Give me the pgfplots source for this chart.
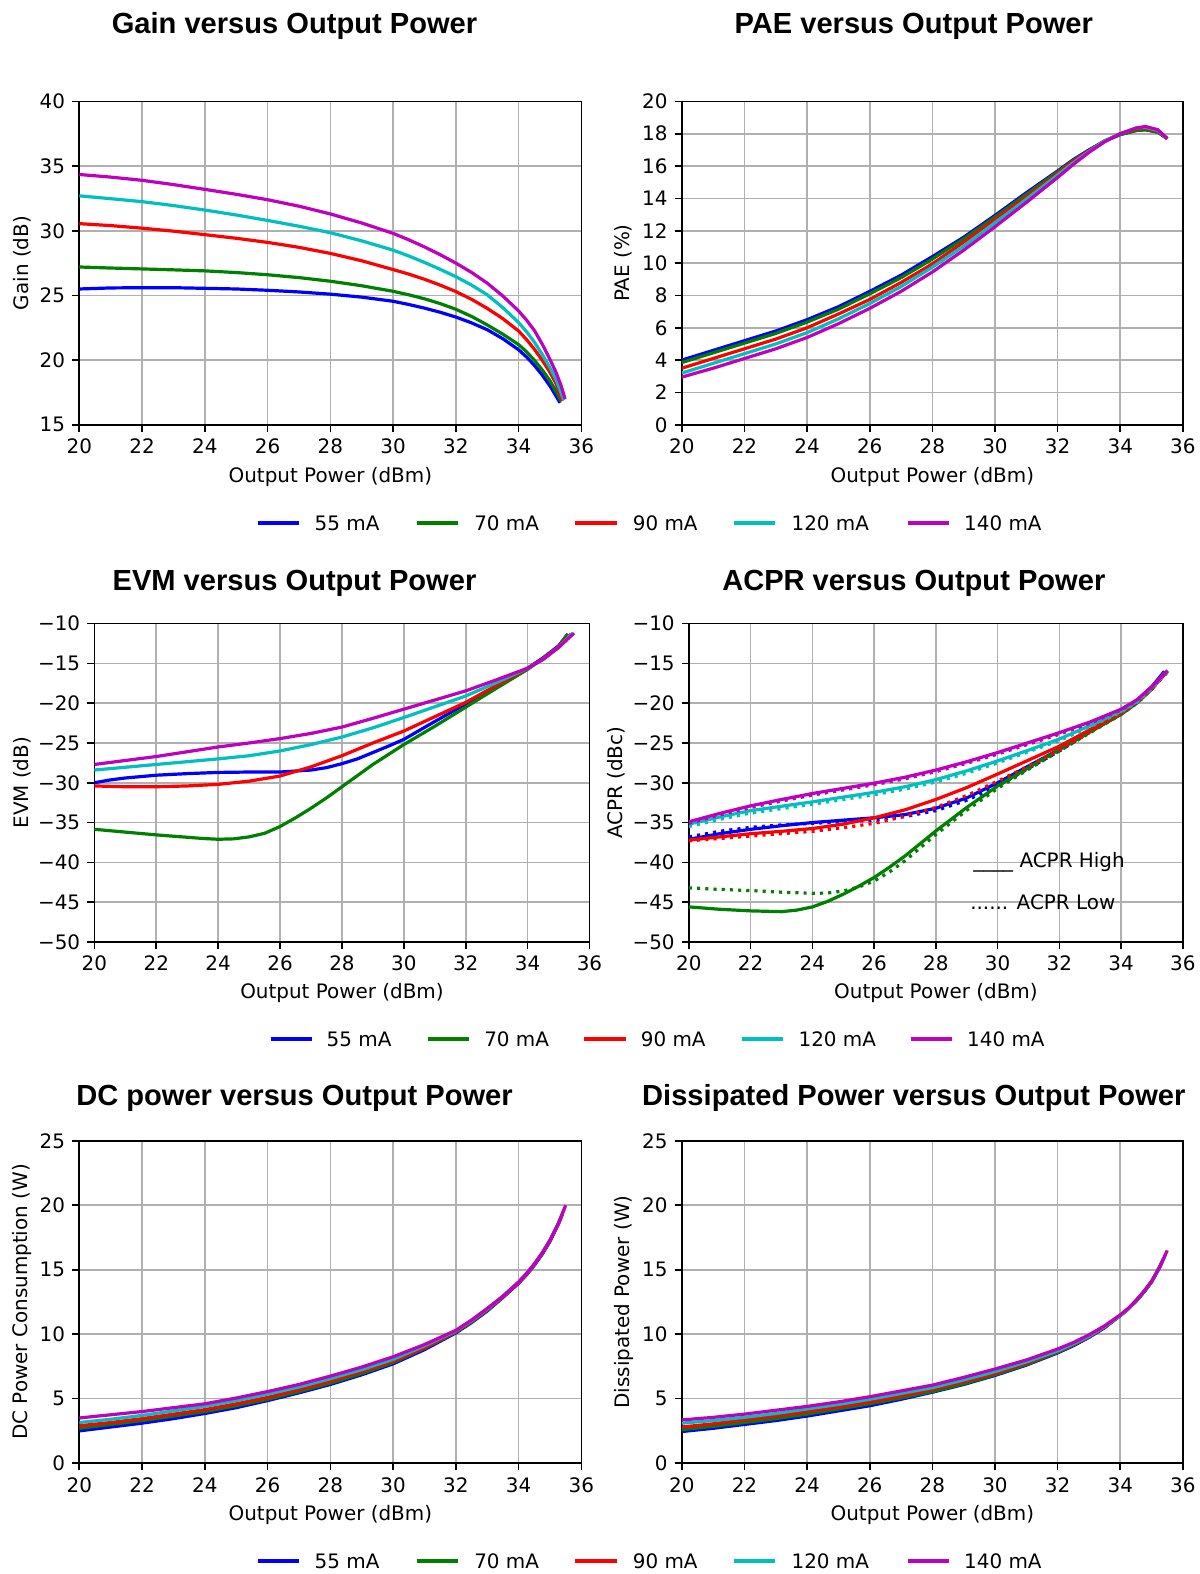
\documentclass[border=0pt]{standalone}
\usepackage{pgfplots}
\pgfplotsset{compat=1.18}
\usepackage{fontspec}
\setmainfont{DejaVu Sans}
\newfontfamily\titlefont{Liberation Sans}
\definecolor{cB}{rgb}{0,0,1}
\definecolor{cG}{rgb}{0,0.5,0}
\definecolor{cR}{rgb}{1,0,0}
\definecolor{cC}{rgb}{0,0.75,0.75}
\definecolor{cM}{rgb}{0.75,0,0.75}
\definecolor{gridc}{rgb}{0.69,0.69,0.69}
\pgfplotsset{
 base/.style={
  scale only axis,
  anchor=south west,
  xmin=20,xmax=36,xtick={20,22,...,36},
  grid=major,
  major grid style={draw=gridc,line width=0.82bp},
  axis line style={line width=0.82bp},
  tick style={black,line width=0.82bp},
  major tick length=3.6bp,
  tick align=outside,
  tick pos=left,
  tick label style={font=\fontsize{10}{12}\selectfont},
  label style={font=\fontsize{10}{12}\selectfont},
  /pgf/number format/assume math mode=true,
  every axis plot/.append style={line width=1.6bp, mark=none, line join=round},
  xlabel={Output Power (dBm)},
  xlabel style={at={(axis description cs:0.5,-0.16)},anchor=center},
 },
 dotl/.style={dash pattern=on 1.55bp off 2.55bp},
}
\begin{document}
\begin{tikzpicture}
% ---------------- Gain
\begin{axis}[base,width=251.05bp,height=161.7bp,at={(39.65bp,-212.4bp)},
  ymin=15,ymax=40,ytick={15,20,...,40},ylabel={Gain (dB)},
  ylabel style={at={(axis description cs:-0.114,0.5)},anchor=center}]
\addplot[cB] coordinates {(20,25.5)(21,25.58)(22,25.6)(23,25.6)(24,25.55)(25,25.5)(26,25.4)(27,25.27)(28,25.1)(29,24.87)(30,24.55)(30.5,24.3)(31,24.02)(31.5,23.7)(32,23.33)(32.5,22.88)(33,22.35)(33.5,21.65)(34,20.8)(34.25,20.25)(34.5,19.6)(34.75,18.85)(35,18.0)(35.15,17.4)(35.32,16.7)};
\addplot[cG] coordinates {(20,27.2)(21,27.12)(22,27.05)(23,26.98)(24,26.9)(25,26.77)(26,26.6)(27,26.38)(28,26.1)(29,25.75)(30,25.32)(30.5,25.05)(31,24.74)(31.5,24.37)(32,23.93)(32.5,23.38)(33,22.72)(33.5,22.0)(34,21.2)(34.25,20.65)(34.5,20.0)(34.75,19.25)(35,18.4)(35.18,17.65)(35.36,16.8)};
\addplot[cR] coordinates {(20,30.55)(21,30.4)(22,30.2)(23,29.97)(24,29.7)(25,29.42)(26,29.1)(27,28.72)(28,28.25)(29,27.68)(30,27.0)(30.5,26.65)(31,26.25)(31.5,25.8)(32,25.3)(32.5,24.7)(33,24.0)(33.5,23.2)(34,22.25)(34.25,21.6)(34.5,20.85)(34.75,20.0)(35,19.05)(35.2,18.15)(35.39,16.85)};
\addplot[cC] coordinates {(20,32.7)(21,32.48)(22,32.25)(23,31.95)(24,31.6)(25,31.22)(26,30.8)(27,30.35)(28,29.85)(29,29.22)(30,28.5)(30.5,28.05)(31,27.55)(31.5,27.02)(32,26.45)(32.5,25.8)(33,25.05)(33.5,24.05)(34,22.9)(34.25,22.2)(34.5,21.4)(34.75,20.45)(35,19.4)(35.2,18.45)(35.44,16.9)};
\addplot[cM] coordinates {(20,34.35)(21,34.15)(22,33.9)(23,33.57)(24,33.2)(25,32.82)(26,32.4)(27,31.9)(28,31.3)(29,30.6)(30,29.8)(30.5,29.3)(31,28.75)(31.5,28.15)(32,27.5)(32.5,26.78)(33,25.95)(33.5,24.95)(34,23.8)(34.25,23.1)(34.5,22.3)(34.75,21.25)(35,20.05)(35.2,19.0)(35.35,18.05)(35.48,17.0)};
\end{axis}
% ---------------- PAE
\begin{axis}[base,width=250.55bp,height=161.7bp,at={(340.9bp,-212.4bp)},
  ymin=0,ymax=20,ytick={0,2,...,20},ylabel={PAE (\%)},
  ylabel style={at={(axis description cs:-0.116,0.5)},anchor=center}]
\addplot[cB] coordinates {(20,4.0)(21,4.6)(22,5.2)(23,5.8)(24,6.5)(25,7.3)(26,8.25)(27,9.25)(28,10.4)(29,11.6)(30,12.95)(31,14.35)(32,15.7)(32.5,16.4)(33,17.0)(33.5,17.55)(34,17.95)(34.5,18.2)(34.8,18.25)(35.2,18.1)(35.5,17.7)};
\addplot[cG] coordinates {(20,3.85)(21,4.45)(22,5.05)(23,5.65)(24,6.35)(25,7.15)(26,8.1)(27,9.1)(28,10.25)(29,11.5)(30,12.85)(31,14.25)(32,15.65)(32.5,16.35)(33,16.95)(33.5,17.55)(34,17.95)(34.5,18.2)(34.8,18.25)(35.2,18.1)(35.5,17.7)};
\addplot[cR] coordinates {(20,3.5)(21,4.1)(22,4.7)(23,5.3)(24,6.0)(25,6.85)(26,7.75)(27,8.8)(28,9.95)(29,11.3)(30,12.7)(31,14.1)(32,15.55)(32.5,16.3)(33,16.95)(33.5,17.55)(34,18.0)(34.5,18.3)(34.8,18.35)(35.2,18.15)(35.5,17.7)};
\addplot[cC] coordinates {(20,3.2)(21,3.8)(22,4.4)(23,5.0)(24,5.7)(25,6.55)(26,7.5)(27,8.55)(28,9.75)(29,11.05)(30,12.5)(31,13.95)(32,15.45)(32.5,16.2)(33,16.9)(33.5,17.55)(34,18.0)(34.5,18.35)(34.8,18.4)(35.2,18.2)(35.5,17.7)};
\addplot[cM] coordinates {(20,2.95)(21,3.5)(22,4.1)(23,4.7)(24,5.4)(25,6.25)(26,7.2)(27,8.25)(28,9.45)(29,10.8)(30,12.25)(31,13.75)(32,15.3)(32.5,16.1)(33,16.85)(33.5,17.5)(34,18.0)(34.5,18.35)(34.8,18.45)(35.2,18.25)(35.5,17.7)};
\end{axis}
% ---------------- EVM
\begin{axis}[base,width=247.55bp,height=159.15bp,at={(47.2bp,-470.95bp)},
  ymin=-50,ymax=-10,ytick={-50,-45,...,-10},
  yticklabels={−50,−45,−40,−35,−30,−25,−20,−15,−10},
  ylabel={EVM (dB)},
  xlabel style={at={(axis description cs:0.5,-0.162)},anchor=center},
  ylabel style={at={(axis description cs:-0.146,0.5)},anchor=center}]
\addplot[cB] coordinates {(20,-30.0)(20.5,-29.65)(21,-29.4)(22,-29.05)(23,-28.85)(24,-28.7)(25,-28.65)(26,-28.65)(27,-28.4)(27.5,-28.1)(28,-27.6)(28.5,-27.0)(29,-26.2)(29.5,-25.4)(30,-24.55)(31,-22.3)(32,-20.1)(33,-17.9)(34,-15.6)(34.5,-14.3)(35,-12.8)(35.3,-11.3)};
\addplot[cG] coordinates {(20,-35.85)(21,-36.2)(22,-36.55)(23,-36.85)(23.5,-37.0)(24,-37.1)(24.5,-37.05)(25,-36.8)(25.5,-36.35)(26,-35.5)(26.5,-34.4)(27,-33.2)(27.5,-31.9)(28,-30.5)(29,-27.7)(30,-25.2)(31,-22.9)(32,-20.5)(33,-18.1)(34,-15.75)(34.5,-14.4)(35,-12.9)(35.3,-11.3)};
\addplot[cR] coordinates {(20,-30.4)(21,-30.5)(22,-30.5)(23,-30.4)(24,-30.2)(25,-29.8)(26,-29.15)(27,-28.0)(28,-26.6)(29,-25.0)(30,-23.5)(31,-21.7)(32,-19.9)(33,-17.75)(34,-15.6)(34.5,-14.4)(35,-12.9)(35.4,-11.3)};
\addplot[cC] coordinates {(20,-28.4)(21,-28.05)(22,-27.7)(23,-27.35)(24,-27.0)(25,-26.6)(26,-26.0)(27,-25.2)(28,-24.25)(29,-23.1)(30,-21.8)(31,-20.45)(32,-19.1)(33,-17.4)(34,-15.6)(34.5,-14.5)(35,-13.0)(35.45,-11.2)};
\addplot[cM] coordinates {(20,-27.7)(21,-27.2)(22,-26.7)(23,-26.1)(24,-25.5)(25,-25.0)(26,-24.45)(27,-23.8)(28,-23.0)(29,-21.9)(30,-20.75)(31,-19.6)(32,-18.45)(33,-17.05)(34,-15.6)(34.5,-14.5)(35,-13.0)(35.5,-11.2)};
\end{axis}
% ---------------- ACPR
\begin{axis}[base,width=247bp,height=159.15bp,at={(344.45bp,-470.95bp)},
  ymin=-50,ymax=-10,ytick={-50,-45,...,-10},
  yticklabels={−50,−45,−40,−35,−30,−25,−20,−15,−10},
  ylabel={ACPR (dBc)},
  xlabel style={at={(axis description cs:0.5,-0.162)},anchor=center},
  ylabel style={at={(axis description cs:-0.148,0.5)},anchor=center}]
\addplot[cB] coordinates {(20,-37.1)(21,-36.4)(22,-35.85)(23,-35.4)(24,-35.0)(25,-34.7)(26,-34.4)(27,-34.0)(28,-33.2)(29,-31.9)(30,-30.0)(31,-27.9)(32,-25.8)(33,-23.5)(34,-21.2)(34.5,-19.8)(35,-17.9)(35.4,-16.0)};
\addplot[cB,dotl] coordinates {(20,-36.8)(21,-36.1)(22,-35.6)(23,-35.3)(24,-35.1)(25,-34.9)(26,-34.7)(27,-34.25)(28,-33.5)(29,-32.2)(30,-30.4)(31,-28.2)(32,-26.0)(33,-23.6)(34,-21.3)(34.5,-19.9)(35,-18.0)(35.4,-16.1)};
\addplot[cG] coordinates {(20,-45.6)(21,-45.9)(22,-46.1)(23,-46.2)(23.5,-46.0)(24,-45.6)(24.5,-44.9)(25,-44.0)(25.5,-43.0)(26,-41.9)(26.5,-40.6)(27,-39.2)(28,-36.05)(29,-33.1)(30,-30.4)(31,-28.1)(32,-25.8)(33,-23.6)(34,-21.4)(34.5,-20.0)(35,-18.2)(35.4,-16.15)};
\addplot[cG,dotl] coordinates {(20,-43.2)(21,-43.4)(22,-43.55)(23,-43.75)(24,-43.9)(24.5,-43.85)(25,-43.6)(25.5,-43.1)(26,-42.35)(26.5,-41.2)(27,-39.8)(28,-36.5)(29,-33.45)(30,-30.7)(31,-28.3)(32,-26.0)(33,-23.7)(34,-21.4)(34.5,-20.05)(35,-18.25)(35.4,-16.2)};
\addplot[cR] coordinates {(20,-37.2)(21,-36.8)(22,-36.4)(23,-36.1)(24,-35.75)(25,-35.2)(26,-34.4)(27,-33.4)(28,-32.1)(29,-30.6)(30,-28.9)(31,-27.15)(32,-25.4)(33,-23.3)(34,-21.2)(34.5,-19.9)(35,-18.1)(35.5,-16.0)};
\addplot[cR,dotl] coordinates {(20,-37.3)(21,-37.0)(22,-36.7)(23,-36.4)(24,-36.1)(25,-35.65)(26,-35.1)(27,-34.2)(28,-33.1)(29,-31.6)(30,-29.8)(31,-27.9)(32,-25.9)(33,-23.6)(34,-21.3)(34.5,-20.0)(35,-18.2)(35.5,-16.1)};
\addplot[cC] coordinates {(20,-35.2)(21,-34.3)(22,-33.5)(23,-32.95)(24,-32.4)(25,-31.8)(26,-31.2)(27,-30.5)(28,-29.6)(29,-28.5)(30,-27.25)(31,-25.9)(32,-24.5)(33,-22.8)(34,-21.0)(34.5,-19.8)(35,-18.0)(35.5,-15.9)};
\addplot[cC,dotl] coordinates {(20,-35.5)(21,-34.6)(22,-33.8)(23,-33.25)(24,-32.7)(25,-32.1)(26,-31.5)(27,-30.8)(28,-29.9)(29,-28.8)(30,-27.5)(31,-26.1)(32,-24.7)(33,-22.95)(34,-21.1)(34.5,-19.9)(35,-18.1)(35.5,-16.0)};
\addplot[cM] coordinates {(20,-34.9)(21,-33.85)(22,-32.9)(23,-32.1)(24,-31.35)(25,-30.7)(26,-30.05)(27,-29.3)(28,-28.4)(29,-27.35)(30,-26.2)(31,-24.95)(32,-23.7)(33,-22.35)(34,-20.75)(34.5,-19.6)(35,-17.9)(35.5,-15.9)};
\addplot[cM,dotl] coordinates {(20,-35.1)(21,-34.05)(22,-33.1)(23,-32.3)(24,-31.55)(25,-30.9)(26,-30.25)(27,-29.5)(28,-28.6)(29,-27.55)(30,-26.4)(31,-25.15)(32,-23.9)(33,-22.5)(34,-20.85)(34.5,-19.7)(35,-18.0)(35.5,-16.0)};
\node[anchor=base west,inner sep=0,font=\fontsize{10}{12}\selectfont] at (axis cs:29.2,-40.65) {\_\_\_\_ ACPR High};
\node[anchor=base west,inner sep=0,font=\fontsize{10}{12}\selectfont] at (axis cs:29.1,-45.95) {...... ACPR Low};
\end{axis}
% ---------------- DC power
\begin{axis}[base,width=251.05bp,height=161.15bp,at={(39.65bp,-731.55bp)},
  ymin=0,ymax=25,ytick={0,5,...,25},ylabel={DC Power Consumption (W)},
  ylabel style={at={(axis description cs:-0.114,0.5)},anchor=center}]
\addplot[cB] coordinates {(20,2.5)(21,2.8)(22,3.1)(23,3.45)(24,3.85)(25,4.3)(26,4.85)(27,5.45)(28,6.1)(29,6.85)(30,7.7)(31,8.8)(32,10.1)(32.5,10.9)(33,11.8)(33.5,12.85)(34,13.95)(34.25,14.6)(34.5,15.35)(34.75,16.2)(35,17.2)(35.3,18.75)};
\addplot[cG] coordinates {(20,2.7)(21,3.0)(22,3.3)(23,3.65)(24,4.0)(25,4.45)(26,4.95)(27,5.55)(28,6.2)(29,6.95)(30,7.8)(31,8.9)(32,10.15)(32.5,10.95)(33,11.85)(33.5,12.9)(34,14.0)(34.25,14.65)(34.5,15.4)(34.75,16.25)(35,17.25)(35.35,19.0)};
\addplot[cR] coordinates {(20,2.9)(21,3.15)(22,3.45)(23,3.8)(24,4.15)(25,4.6)(26,5.1)(27,5.7)(28,6.35)(29,7.1)(30,7.9)(31,8.95)(32,10.2)(32.5,11.0)(33,11.9)(33.5,12.9)(34,14.0)(34.25,14.65)(34.5,15.4)(34.75,16.25)(35,17.25)(35.25,18.45)(35.4,19.3)};
\addplot[cC] coordinates {(20,3.15)(21,3.4)(22,3.7)(23,4.05)(24,4.4)(25,4.85)(26,5.35)(27,5.9)(28,6.55)(29,7.25)(30,8.05)(31,9.1)(32,10.25)(32.5,11.05)(33,11.95)(33.5,12.95)(34,14.05)(34.25,14.7)(34.5,15.45)(34.75,16.3)(35,17.3)(35.25,18.5)(35.45,19.7)};
\addplot[cM] coordinates {(20,3.5)(21,3.75)(22,4.0)(23,4.3)(24,4.6)(25,5.05)(26,5.55)(27,6.1)(28,6.75)(29,7.45)(30,8.25)(31,9.2)(32,10.3)(32.5,11.1)(33,12.0)(33.5,12.95)(34,14.05)(34.25,14.7)(34.5,15.45)(34.75,16.3)(35,17.3)(35.25,18.5)(35.5,20.0)};
\end{axis}
% ---------------- Dissipated
\begin{axis}[base,width=250.55bp,height=161.15bp,at={(340.9bp,-731.55bp)},
  ymin=0,ymax=25,ytick={0,5,...,25},ylabel={Dissipated Power (W)},
  ylabel style={at={(axis description cs:-0.116,0.5)},anchor=center}]
\addplot[cB] coordinates {(20,2.45)(21,2.7)(22,3.0)(23,3.3)(24,3.65)(25,4.05)(26,4.45)(27,4.95)(28,5.5)(29,6.1)(30,6.8)(31,7.6)(32,8.55)(32.5,9.1)(33,9.75)(33.5,10.5)(34,11.45)(34.25,11.95)(34.5,12.55)(34.75,13.25)(35,14.05)(35.3,15.4)};
\addplot[cG] coordinates {(20,2.6)(21,2.85)(22,3.15)(23,3.45)(24,3.8)(25,4.2)(26,4.6)(27,5.05)(28,5.55)(29,6.15)(30,6.85)(31,7.65)(32,8.6)(32.5,9.15)(33,9.8)(33.5,10.55)(34,11.45)(34.25,11.95)(34.5,12.55)(34.75,13.25)(35,14.05)(35.35,15.7)};
\addplot[cR] coordinates {(20,2.8)(21,3.05)(22,3.35)(23,3.65)(24,4.0)(25,4.35)(26,4.75)(27,5.2)(28,5.7)(29,6.3)(30,6.95)(31,7.75)(32,8.65)(32.5,9.2)(33,9.8)(33.5,10.55)(34,11.45)(34.25,11.95)(34.5,12.6)(34.75,13.3)(35,14.1)(35.25,15.15)(35.4,15.95)};
\addplot[cC] coordinates {(20,3.1)(21,3.3)(22,3.55)(23,3.85)(24,4.2)(25,4.55)(26,4.95)(27,5.4)(28,5.85)(29,6.45)(30,7.1)(31,7.85)(32,8.7)(32.5,9.25)(33,9.85)(33.5,10.6)(34,11.45)(34.25,11.95)(34.5,12.6)(34.75,13.3)(35,14.1)(35.25,15.15)(35.45,16.2)};
\addplot[cM] coordinates {(20,3.35)(21,3.55)(22,3.8)(23,4.1)(24,4.4)(25,4.75)(26,5.15)(27,5.6)(28,6.05)(29,6.65)(30,7.3)(31,8.0)(32,8.85)(32.5,9.35)(33,9.95)(33.5,10.65)(34,11.5)(34.25,12.0)(34.5,12.6)(34.75,13.3)(35,14.1)(35.25,15.15)(35.5,16.5)};
\end{axis}
% ---------------- titles
\begin{scope}[every node/.style={anchor=base,inner sep=0,font=\titlefont\bfseries\fontsize{14.6}{17}\selectfont}]
\node at (147.25bp,-16.65bp) {Gain versus Output Power};
\node at (456.9bp,-16.65bp) {PAE versus Output Power};
\node at (147.25bp,-295.3bp) {EVM versus Output Power};
\node at (456.9bp,-295.3bp) {ACPR versus Output Power};
\node at (147.25bp,-552.75bp) {DC power versus Output Power};
\node at (456.9bp,-552.75bp) {Dissipated Power versus Output Power};
\end{scope}
% ---------------- legends
\begin{scope}[every node/.style={anchor=west,inner sep=0,font=\fontsize{10}{12}\selectfont}]
\foreach \yy in {-261.5bp,-780.5bp}{
\draw[cB,line width=1.6bp] (129.0bp,\yy) -- ++(20.6bp,0); \node at (157.15bp,\yy) {55 mA};
\draw[cG,line width=1.6bp] (208.35bp,\yy) -- ++(20.6bp,0); \node at (236.95bp,\yy) {70 mA};
\draw[cR,line width=1.6bp] (287.65bp,\yy) -- ++(20.6bp,0); \node at (316.25bp,\yy) {90 mA};
\draw[cC,line width=1.6bp] (367.0bp,\yy) -- ++(20.6bp,0); \node at (395.6bp,\yy) {120 mA};
\draw[cM,line width=1.6bp] (453.8bp,\yy) -- ++(20.6bp,0); \node at (481.9bp,\yy) {140 mA};
}
\draw[cB,line width=1.6bp] (135.55bp,-519.5bp) -- ++(20.6bp,0); \node at (163.15bp,-519.5bp) {55 mA};
\draw[cG,line width=1.6bp] (213.85bp,-519.5bp) -- ++(20.6bp,0); \node at (241.95bp,-519.5bp) {70 mA};
\draw[cR,line width=1.6bp] (292.15bp,-519.5bp) -- ++(20.6bp,0); \node at (320.25bp,-519.5bp) {90 mA};
\draw[cC,line width=1.6bp] (371.0bp,-519.5bp) -- ++(20.6bp,0); \node at (399.1bp,-519.5bp) {120 mA};
\draw[cM,line width=1.6bp] (455.3bp,-519.5bp) -- ++(20.6bp,0); \node at (483.4bp,-519.5bp) {140 mA};
\end{scope}
\pgfresetboundingbox
\useasboundingbox (0,0) rectangle (600bp,-787bp);
\end{tikzpicture}
\end{document}
